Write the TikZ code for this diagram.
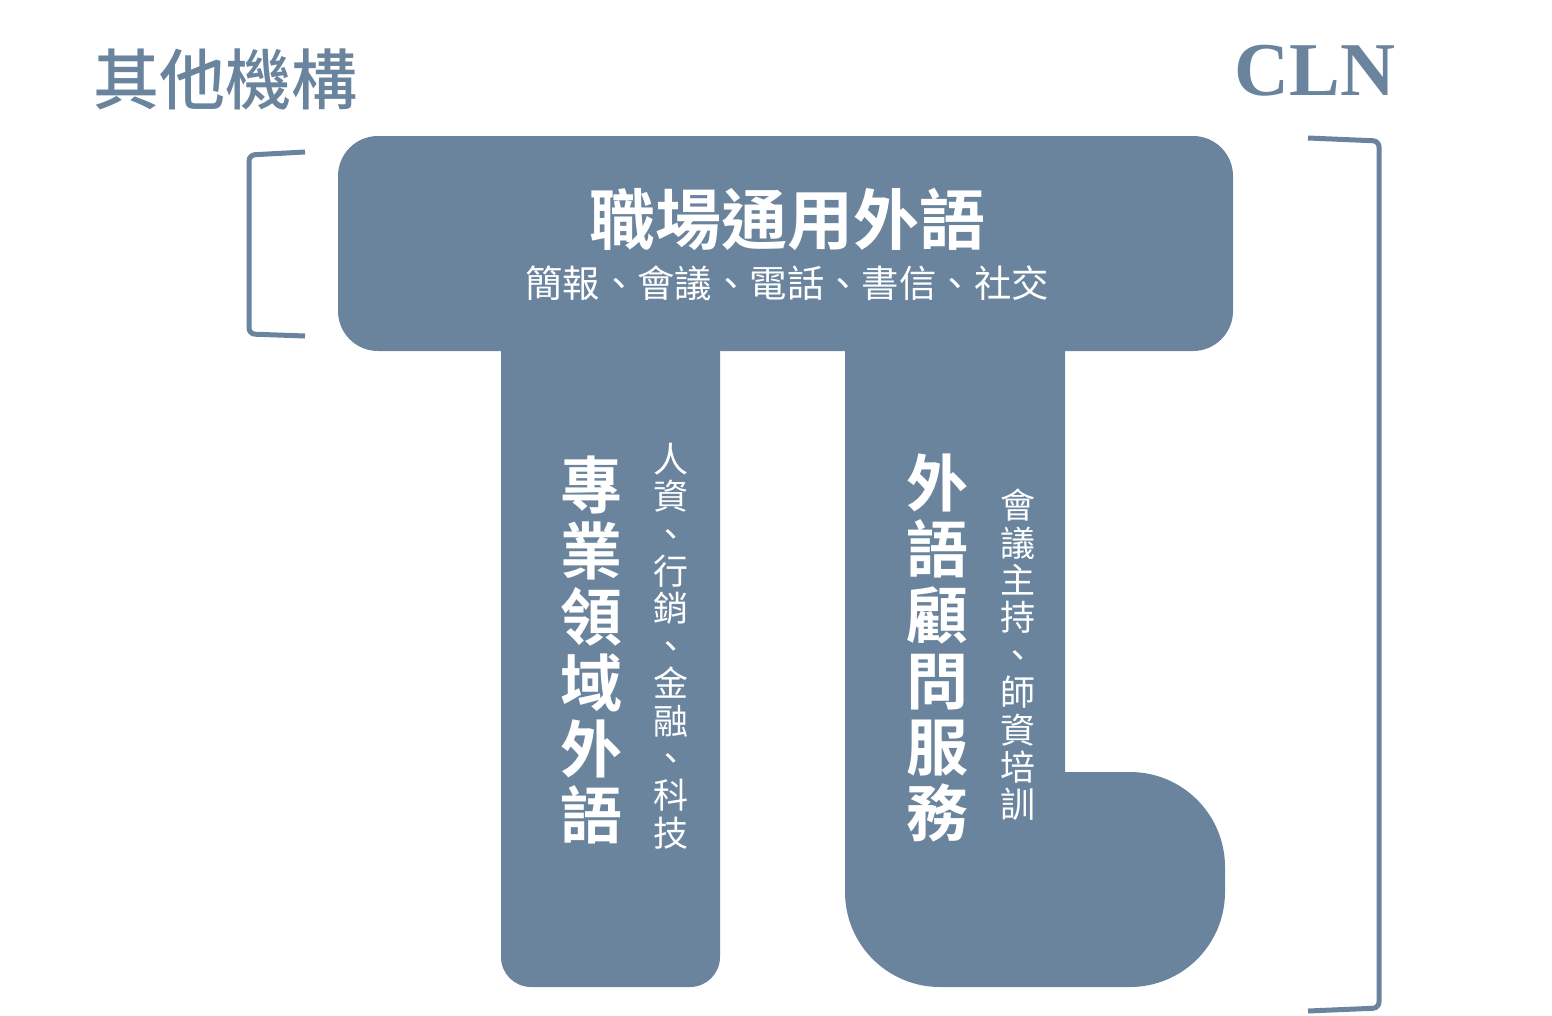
\documentclass[tikz,border=0pt]{standalone}
\usepackage{fontspec}
\setmainfont{Liberation Serif}
\newfontfamily\cjk{Noto Sans CJK TC}[BoldFont={Noto Sans CJK TC Bold}]
\newfontfamily\cjkmed{Noto Sans CJK TC Medium}
\definecolor{slate}{RGB}{106,132,158}

\begin{document}
\begin{tikzpicture}[x=1pt,y=-1pt]
\tikzstyle{every node}+=[inner sep=0pt]
\tikzstyle{bigtext}=[text=white,font=\cjk\bfseries\fontsize{62}{66}\selectfont,align=center]
\tikzstyle{smalltext}=[text=white,font=\cjk\fontsize{35}{37.4}\selectfont,align=center]
\tikzstyle{bracket}=[draw=slate,line width=5pt,rounded corners=6pt]
\useasboundingbox (0,0) rectangle (1552,1015);
\fill [slate,rounded corners=40pt] (338,136) rectangle (1233,351);
\fill [slate] (501,330) -- (720,330) [rounded corners=30pt] -- (720,987) -- (501,987) [sharp corners] -- (501,600) -- cycle;
\fill [slate] (845,330) -- (1065,330) -- (1065,772) [rounded corners=95pt] -- (1225,772) -- (1225,987) -- (845,987) [sharp corners] -- (845,600) -- cycle;
\draw [bracket] (305,152) -- (249,155) -- (249,334) -- (305,336);
\draw [bracket] (1308,138) -- (1379,141) -- (1379,1008) -- (1308,1011);
\node (others) [text=slate,font=\cjkmed\fontsize{66}{66}\selectfont] at (225,79) {其他機構};
\node (cln) [text=slate,font=\bfseries\fontsize{76}{76}\selectfont] at (1315,71) {CLN};
\node (general) [bigtext,font=\cjk\bfseries\fontsize{66}{66}\selectfont] at (787,219) {職場通用外語};
\node (generalsub) [smalltext,font=\cjk\fontsize{37.4}{37.4}\selectfont] at (787,283) {簡報、會議、電話、書信、社交};
\node (special) [bigtext] at (591,650) {專\\業\\領\\域\\外\\語};
\node (specialsub) [smalltext] at (671,646) {人\\資\\、\\行\\銷\\、\\金\\融\\、\\科\\技};
\node (consult) [bigtext] at (937,648) {外\\語\\顧\\問\\服\\務};
\node (consultsub) [smalltext] at (1018,655) {會\\議\\主\\持\\、\\師\\資\\培\\訓};
\end{tikzpicture}
\end{document}
